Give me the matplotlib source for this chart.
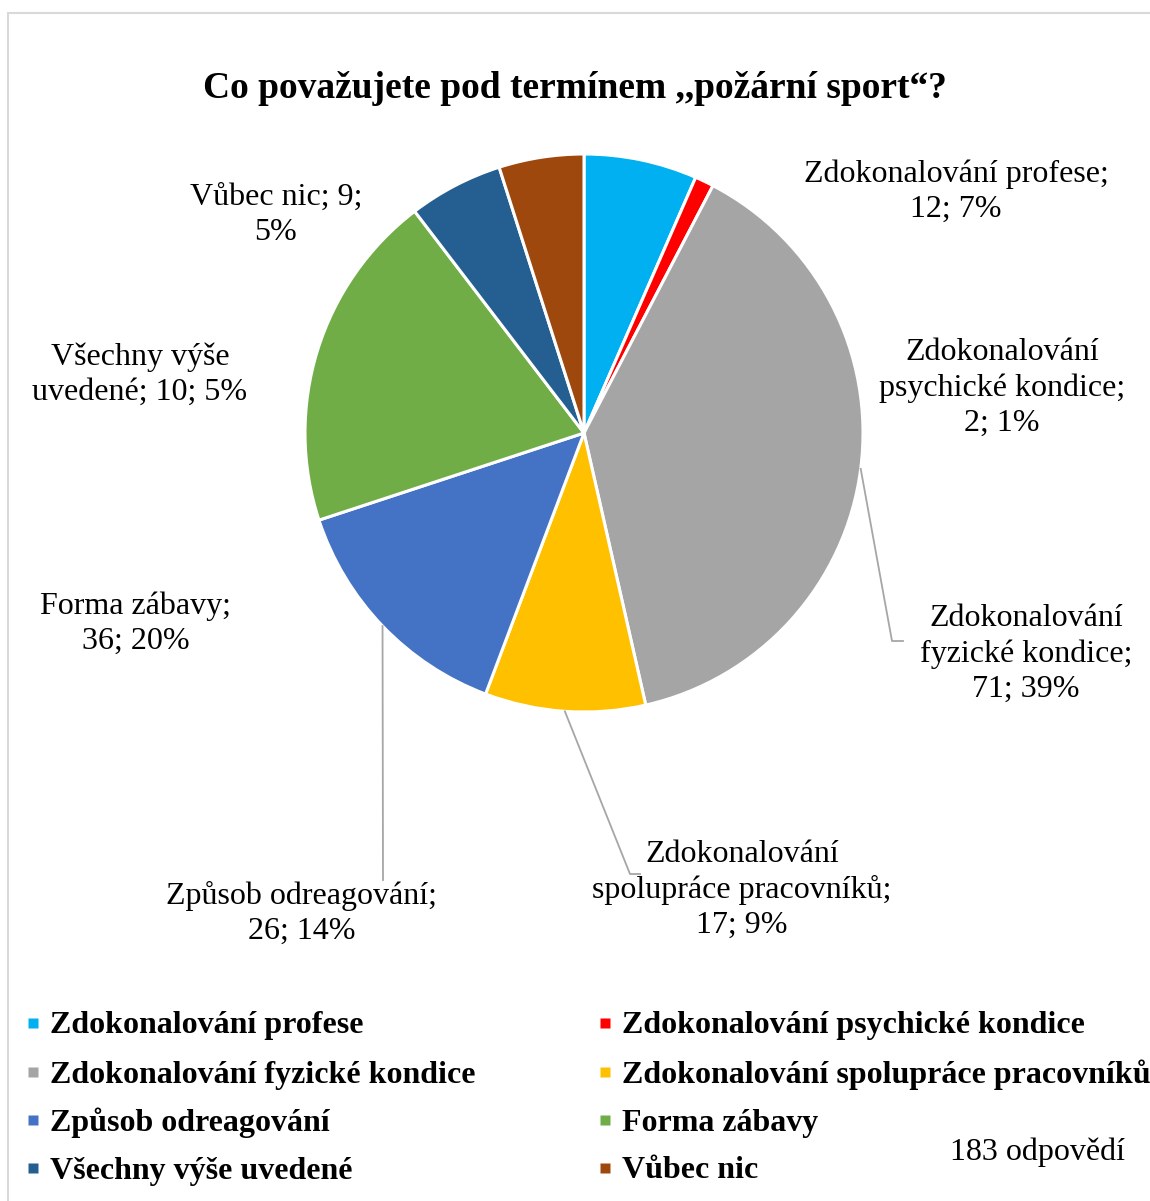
import numpy as np
import matplotlib.pyplot as plt
from matplotlib.patches import Rectangle

plt.rcParams['font.family'] = ['Liberation Serif', 'DejaVu Serif']

# data
categories = ['Zdokonalování profese', 'Zdokonalování psychické kondice',
              'Zdokonalování fyzické kondice', 'Zdokonalování spolupráce pracovníků',
              'Způsob odreagování', 'Forma zábavy', 'Všechny výše uvedené', 'Vůbec nic']
counts = [12, 2, 71, 17, 26, 36, 10, 9]
colors = ['#00B0F0', '#FF0000', '#A5A5A5', '#FFC000',
          '#4472C4', '#70AD47', '#255E91', '#9E480E']
# how each data label wraps
label_heads = ['Zdokonalování profese;\n', 'Zdokonalování\npsychické kondice;\n',
               'Zdokonalování\nfyzické kondice;\n', 'Zdokonalování\nspolupráce pracovníků;\n',
               'Způsob odreagování;\n', 'Forma zábavy;\n', 'Všechny výše\nuvedené; ', 'Vůbec nic; ']
total = sum(counts)

W, H = 1150, 1201
fig = plt.figure(figsize=(W / 100, H / 100), dpi=100)
ax = fig.add_axes([0, 0, 1, 1])

def py(y):
    # pixel row (from top) -> data y
    return H - y

cx, cy, r = 584, py(433), 279
wedges, _ = ax.pie(counts, colors=colors, startangle=90, counterclock=False,
                   center=(cx, cy), radius=r, frame=True,
                   wedgeprops=dict(edgecolor='white', linewidth=2.2))
ax.set_xlim(0, W)
ax.set_ylim(0, H)
ax.set_aspect('auto')
ax.axis('off')

# data labels
label_pos = [(956, 192), (1002, 388), (1026, 654), (742, 890),
             (302, 913), (136, 624), (140, 375), (276, 215)]
for i, (n, head) in enumerate(zip(counts, label_heads)):
    pct = round(100 * n / total)
    if i == 7:
        txt = head + f'{n};\n{pct}%'
    else:
        txt = head + f'{n}; {pct}%'
    x, y = label_pos[i]
    ax.text(x, py(y), txt, ha='center', va='center', fontsize=23,
            linespacing=1.27, color='black')

# leader lines from wedge middles
def mid_point(w):
    a = np.deg2rad((w.theta1 + w.theta2) / 2)
    return cx + r * np.cos(a), cy + r * np.sin(a)

leader_ends = {2: [(892, 641), (903, 641)], 3: [(630, 874), (640, 874)], 4: [(383, 880)]}
for i, pts in leader_ends.items():
    x0, y0 = mid_point(wedges[i])
    xs = [x0] + [p[0] for p in pts]
    ys = [y0] + [py(p[1]) for p in pts]
    ax.plot(xs, ys, color='#A6A6A6', lw=1.3)

# title
ax.text(575, py(89), 'Co považujete pod termínem ,,požární sport“?', ha='center',
        va='center', fontsize=27, fontweight='bold')

# legend
leg_x = [33, 605]
leg_y = [1024, 1073, 1121, 1169]
for i, cat in enumerate(categories):
    x = leg_x[i % 2]
    y = leg_y[i // 2]
    ax.plot(x, py(y - 1), marker='s', ms=7.5, color=colors[i], mec='none')
    ax.text(x + 17, py(y + 2), cat, ha='left', va='center', fontsize=23, fontweight='bold')

ax.text(1038, py(1152), f'{total} odpovědí', ha='center', va='center', fontsize=23)

# chart border
fig.patches.append(Rectangle((8 / W, -0.01), 1.02, (H - 13) / H + 0.01,
                             transform=fig.transFigure, fill=False,
                             edgecolor='#D9D9D9', lw=1.5))

fig.savefig('out.png', dpi=100, facecolor='white')
